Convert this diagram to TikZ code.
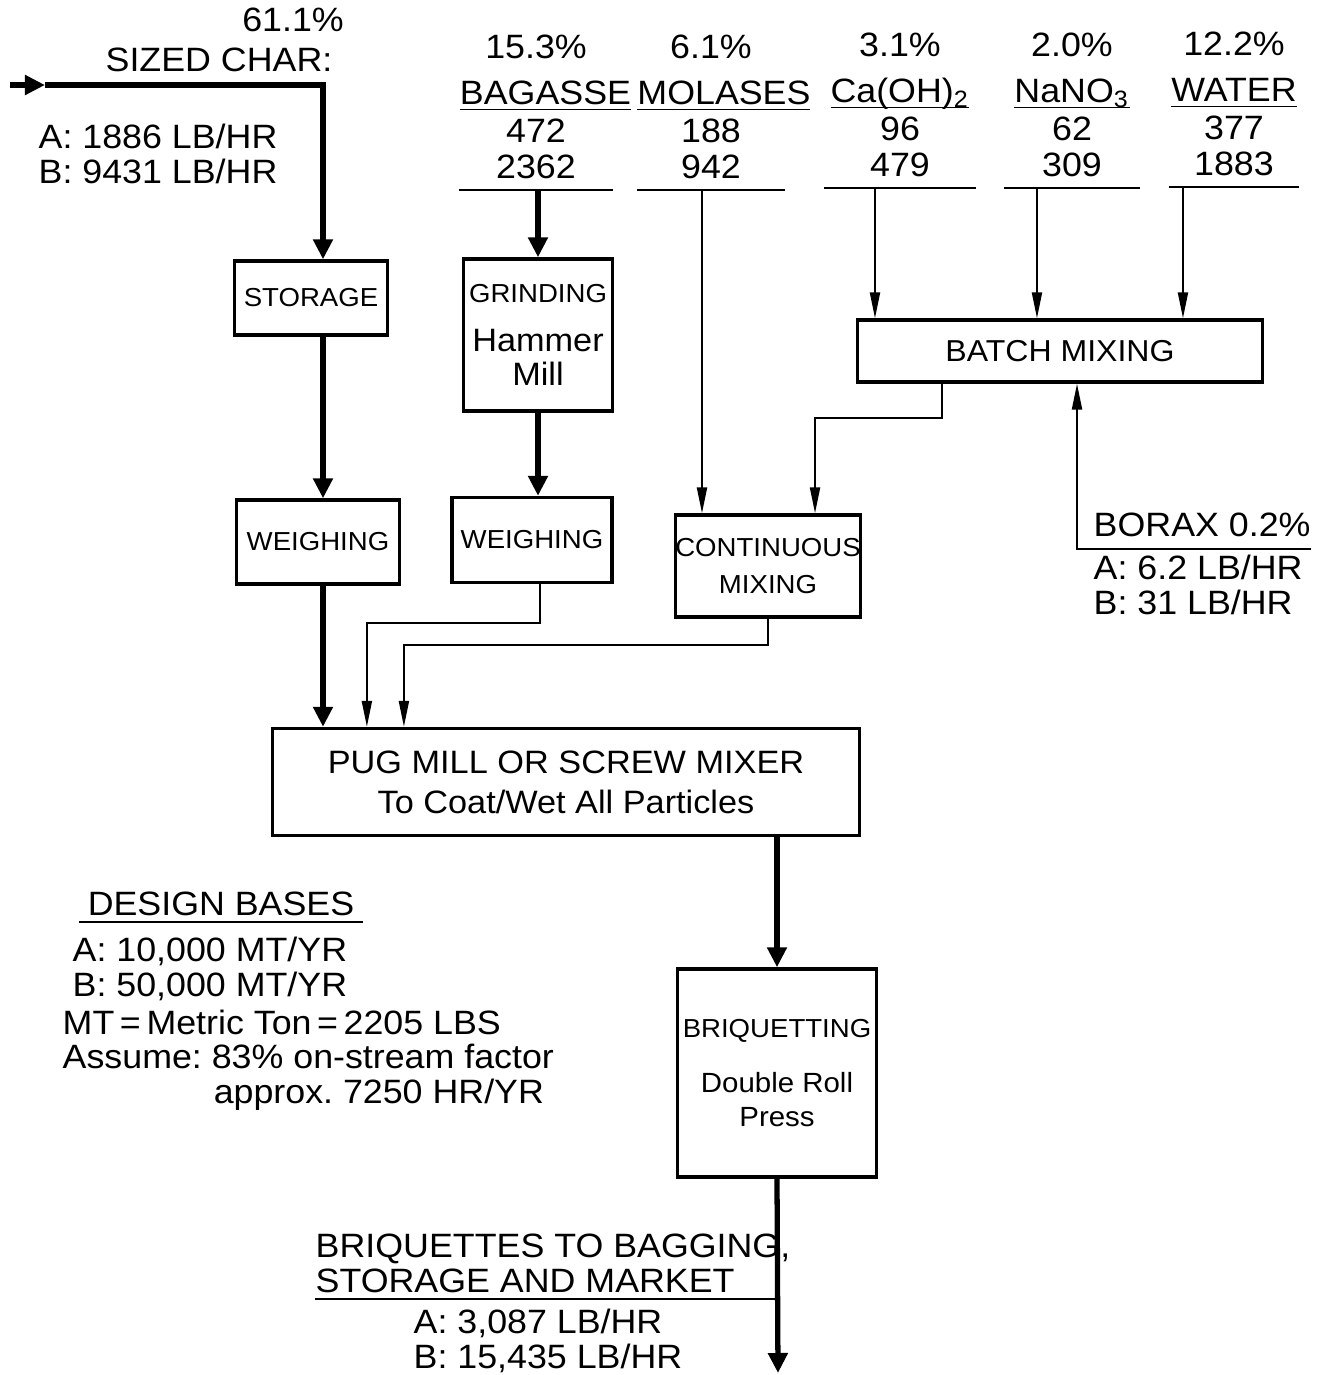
\documentclass[tikz,border=0pt]{standalone}
\usepackage{fontspec}
\setmainfont[FakeStretch=1.06]{Liberation Sans}
\usetikzlibrary{arrows.meta,positioning}

\newcommand{\bigtxt}{\fontsize{9.6}{9.7}\selectfont}
\newcommand{\midtxt}{\fontsize{8.6}{9.7}\selectfont}
\newcommand{\smalltxt}{\fontsize{7.4}{9.7}\selectfont}
\newcommand{\hmtxt}{\fontsize{9.2}{10}\selectfont}
\newcommand{\presstxt}{\fontsize{7.9}{9}\selectfont}

\begin{document}
\frenchspacing
\begin{tikzpicture}[x=0.01cm, y=-0.01cm,
  box/.style={draw, line width=0.95pt, inner sep=0pt, align=center, font=\smalltxt},
  lbl/.style={inner sep=0pt, align=left, font=\bigtxt},
  feed/.style={inner xsep=0pt, inner ysep=0.1cm, align=center, font=\bigtxt},
  thickarr/.style={-{Triangle[length=0.2cm, width=0.19cm]}, line width=1.5pt},
  thinarr/.style={-{Triangle[length=0.26cm, width=0.1cm]}, line width=0.6pt},
  rule/.style={line width=0.6pt}
]
  \useasboundingbox (0,0) rectangle (1318,1375);

  % process boxes
  \node[box, minimum width=1.53cm, minimum height=0.74cm] (storage) at (311,298) {STORAGE};
  \node[box, minimum width=1.63cm, minimum height=0.84cm] (weighA) at (318,542) {WEIGHING};
  \node[box, minimum width=1.49cm, minimum height=1.52cm] (grind) at (538,335)
    {GRINDING\\[4pt]\hmtxt Hammer\\\hmtxt Mill};
  \node[box, minimum width=1.60cm, minimum height=0.85cm] (weighB) at (532,540) {WEIGHING};
  \node[box, minimum width=4.05cm, minimum height=0.62cm, font=\midtxt] (batch) at (1060,351) {BATCH MIXING};
  \node[box, minimum width=1.80cm, minimum height=1.02cm] (contmix) at (768,566) {CONTINUOUS\\[1pt]MIXING};
  \node[box, minimum width=5.87cm, minimum height=1.07cm, font=\fontsize{9.2}{11.3}\selectfont] (pug) at (566,782)
    {PUG MILL OR SCREW MIXER\\To Coat/Wet All Particles};
  \node[box, minimum width=1.99cm, minimum height=2.08cm] (briq) at (777,1073)
    {BRIQUETTING\\[6pt]\presstxt Double Roll\\\presstxt Press};

  % feeds
  \node[lbl, anchor=base] (charpct) at (293,31) {61.1\%};
  \node[lbl, anchor=base] (charname) at (219,71) {SIZED CHAR:};
  \node[lbl, anchor=base west] (charrate) at (38,183) {A: 1886 LB/HR\\B: 9431 LB/HR};
  \node[feed, text width=1.52cm, anchor=south] (bag) at (536,190)
    {15.3\%\\[3.4pt]\underline{BAGASSE}\\[1.2pt]472\\[0.6pt]2362};
  \node[feed, text width=1.47cm, anchor=south] (mol) at (711,190)
    {6.1\%\\[3.4pt]\underline{MOLASES}\\[1.2pt]188\\[0.6pt]942};
  \node[feed, text width=1.50cm, anchor=south] (cal) at (900,188)
    {3.1\%\\[3.4pt]\underline{\smash{Ca(OH)\textsubscript{2}}}\\[1.2pt]96\\[0.6pt]479};
  \node[feed, text width=1.35cm, anchor=south] (nit) at (1072,188)
    {2.0\%\\[3.4pt]\underline{\smash{NaNO\textsubscript{3}}}\\[1.2pt]62\\[0.6pt]309};
  \node[feed, text width=1.28cm, anchor=south] (wat) at (1234,187)
    {12.2\%\\[3.4pt]\underline{WATER}\\[1.2pt]377\\[0.6pt]1883};
  \node[lbl, anchor=base west] (borax) at (1093,536) {BORAX 0.2\%};
  \node[lbl, anchor=base west] (boraxrate) at (1093,614) {A: 6.2 LB/HR\\B: 31 LB/HR};

  % notes and product
  \node[lbl, align=center, minimum width=2.82cm, inner ysep=0.05cm, anchor=south] (design) at (221,922) {DESIGN BASES};
  \node[lbl, anchor=base west] (designrate) at (72,996) {A: 10,000 MT/YR\\B: 50,000 MT/YR};
  \node[lbl, anchor=base west] (notes) at (62,1103)
    {MT\,=\,Metric Ton\,=\,2205 LBS\\Assume: 83\% on-stream factor\\\hspace*{1.51cm}approx. 7250 HR/YR};
  \node[lbl, anchor=base west] (product) at (315,1292) {BRIQUETTES TO BAGGING,\\STORAGE AND MARKET};
  \node[lbl, anchor=base west] (productrate) at (413,1368) {A: 3,087 LB/HR\\B: 15,435 LB/HR};

  \coordinate (charin) at (10,85);
  \coordinate (chartip) at (45,85);
  \coordinate (colA) at (323,0);
  \coordinate (out) at (778,1373);

  % rules
  \draw[rule] (bag.south west) -- (bag.south east);
  \draw[rule] (mol.south west) -- (mol.south east);
  \draw[rule] (cal.south west) -- (cal.south east);
  \draw[rule] (nit.south west) -- (nit.south east);
  \draw[rule] (wat.south west) -- (wat.south east);
  \draw[rule] (design.south west) -- (design.south east);
  \draw[rule] ([yshift=-0.06cm]product.south west) -- ([yshift=-0.06cm]product.south west -| briq.south);

  % main flow
  \draw[thickarr] (charin) -- (chartip);
  \draw[thickarr] (chartip) -| (storage.north -| colA);
  \draw[thickarr] (storage.south -| colA) -- (weighA.north -| colA);
  \draw[thickarr] (weighA.south -| colA) -- (pug.north -| colA);
  \draw[thickarr] (bag.south -| grind.north) -- (grind.north);
  \draw[thickarr] (grind.south) -- (grind.south |- weighB.north);
  \draw[thinarr] ([xshift=0.08cm]weighB.south) -- ++(0,39) -| ([xshift=-1.99cm]pug.north);
  \draw[thinarr] (contmix.south) -- ++(0,26) -| ([xshift=-1.62cm]pug.north);
  \draw[thickarr] (pug.south -| briq.north) -- (briq.north);
  \draw[thickarr] (briq.south) -- (out);

  % additives
  \draw[thinarr] ([xshift=-0.09cm]mol.south) -- ([xshift=-0.09cm]mol.south |- contmix.north);
  \draw[thinarr] ([xshift=-0.25cm]cal.south) -- ([xshift=-0.25cm]cal.south |- batch.north);
  \draw[thinarr] ([xshift=-0.35cm]nit.south) -- ([xshift=-0.35cm]nit.south |- batch.north);
  \draw[thinarr] ([xshift=-0.51cm]wat.south) -- ([xshift=-0.51cm]wat.south |- batch.north);
  \draw[thinarr] ([xshift=-1.18cm]batch.south) -- ++(0,34) -| ([xshift=0.47cm]contmix.north);
  \draw[thinarr] ([yshift=-0.12cm]borax.south east) -| ([xshift=0.17cm]batch.south);
\end{tikzpicture}
\end{document}
